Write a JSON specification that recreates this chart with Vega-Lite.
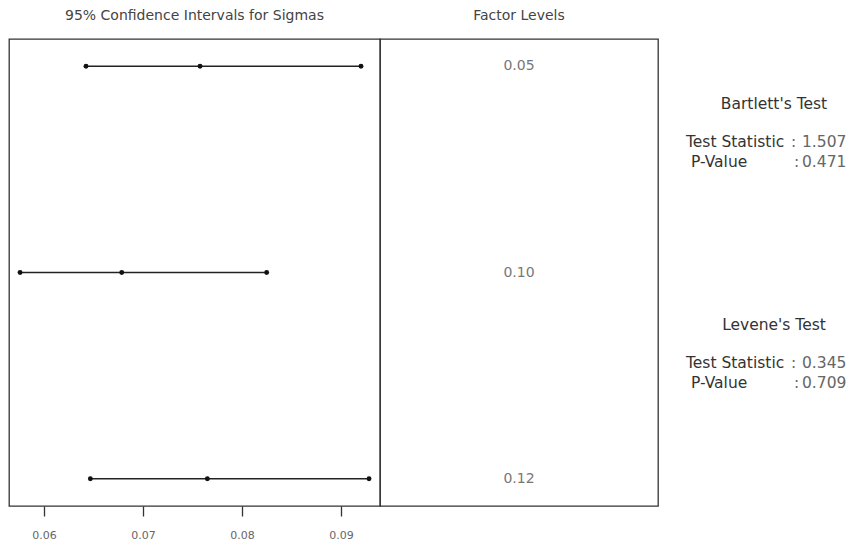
{
  "$schema": "https://vega.github.io/schema/vega-lite/v6.json",
  "padding": {"left": 8, "top": 8, "right": 0, "bottom": 0},
  "background": "white",
  "bounds": "flush",
  "spacing": 0,
  "datasets": {
    "intervals": [
      {"level": "0.05", "lower": 0.06424, "sigma": 0.07576, "upper": 0.09202},
      {"level": "0.10", "lower": 0.05758, "sigma": 0.06785, "upper": 0.08249},
      {"level": "0.12", "lower": 0.06468, "sigma": 0.07650, "upper": 0.09283}
    ],
    "tests": [
      {"test": "Bartlett's Test", "statistic": 1.507, "pvalue": 0.471},
      {"test": "Levene's Test", "statistic": 0.345, "pvalue": 0.709}
    ]
  },
  "config": {
    "font": "DejaVu Sans",
    "view": {"stroke": "#333333", "strokeWidth": 1.3},
    "title": {"font": "DejaVu Sans", "fontSize": 14, "fontWeight": "normal", "color": "#444444", "offset": 16}
  },
  "hconcat": [
    {
      "width": 371,
      "height": 467,
      "title": {"text": "95% Confidence Intervals for Sigmas"},
      "data": {"name": "intervals"},
      "encoding": {
        "y": {"field": "level", "type": "nominal", "scale": {"type": "point", "domain": ["0.05", "0.10", "0.12"], "padding": 0.132}, "axis": null}
      },
      "layer": [
        {
          "mark": {"type": "rule", "color": "#222222", "strokeWidth": 1.3},
          "encoding": {
            "x": {"field": "lower", "type": "quantitative",
                  "scale": {"domain": [0.05646, 0.09394], "nice": false, "zero": false},
                  "axis": {"values": [0.06, 0.07, 0.08, 0.09], "format": ".2f", "title": null, "grid": false, "domain": false,
                           "tickSize": 10, "tickColor": "#333333", "tickWidth": 1.3, "labelColor": "#666666", "labelFont": "DejaVu Sans",
                           "labelFontSize": 11, "labelPadding": 13}},
            "x2": {"field": "upper"}
          }
        },
        {
          "transform": [{"fold": ["lower", "sigma", "upper"], "as": ["stat", "value"]}],
          "mark": {"type": "circle", "size": 24, "color": "#111111", "opacity": 1},
          "encoding": {"x": {"field": "value", "type": "quantitative"}}
        }
      ]
    },
    {
      "width": 278,
      "height": 467,
      "title": {"text": "Factor Levels"},
      "data": {"name": "intervals"},
      "mark": {"type": "text", "fontSize": 14, "color": "#777777", "align": "center", "baseline": "middle"},
      "encoding": {
        "y": {"field": "level", "type": "nominal", "scale": {"type": "point", "domain": ["0.05", "0.10", "0.12"], "padding": 0.132}, "axis": null},
        "x": {"datum": 0.5, "type": "quantitative", "scale": {"domain": [0, 1]}, "axis": null},
        "text": {"field": "level", "type": "nominal"}
      }
    },
    {
      "width": 200,
      "height": 467,
      "view": {"stroke": null},
      "data": {"name": "tests"},
      "encoding": {
        "y": {"field": "test", "type": "nominal", "scale": {"type": "point", "domain": ["Bartlett's Test", "Levene's Test"], "padding": 0.552}, "axis": null}
      },
      "layer": [
        {
          "mark": {"type": "text", "fontSize": 15.5, "color": "#333333", "align": "center", "baseline": "middle", "dy": -58},
          "encoding": {
            "x": {"datum": 0.58, "type": "quantitative", "scale": {"domain": [0, 1]}, "axis": null},
            "text": {"field": "test", "type": "nominal"}
          }
        },
        {
          "mark": {"type": "text", "fontSize": 15.5, "color": "#333333", "align": "left", "baseline": "middle", "dy": -20, "text": "Test Statistic"},
          "encoding": {
            "x": {"datum": 0.14, "type": "quantitative", "scale": {"domain": [0, 1]}, "axis": null}
          }
        },
        {
          "mark": {"type": "text", "fontSize": 15.5, "color": "#333333", "align": "left", "baseline": "middle", "dy": 0, "text": "P-Value"},
          "encoding": {
            "x": {"datum": 0.165, "type": "quantitative", "scale": {"domain": [0, 1]}, "axis": null}
          }
        },
        {
          "mark": {"type": "text", "fontSize": 15.5, "color": "#666666", "align": "left", "baseline": "middle", "dy": -20, "text": ":"},
          "encoding": {
            "x": {"datum": 0.665, "type": "quantitative", "scale": {"domain": [0, 1]}, "axis": null}
          }
        },
        {
          "mark": {"type": "text", "fontSize": 15.5, "color": "#666666", "align": "left", "baseline": "middle", "dy": 0, "text": ":"},
          "encoding": {
            "x": {"datum": 0.68, "type": "quantitative", "scale": {"domain": [0, 1]}, "axis": null}
          }
        },
        {
          "mark": {"type": "text", "fontSize": 15.5, "color": "#666666", "align": "left", "baseline": "middle", "dy": -20},
          "encoding": {
            "x": {"datum": 0.72, "type": "quantitative", "scale": {"domain": [0, 1]}, "axis": null},
            "text": {"field": "statistic", "type": "quantitative", "format": ".3f"}
          }
        },
        {
          "mark": {"type": "text", "fontSize": 15.5, "color": "#666666", "align": "left", "baseline": "middle", "dy": 0},
          "encoding": {
            "x": {"datum": 0.72, "type": "quantitative", "scale": {"domain": [0, 1]}, "axis": null},
            "text": {"field": "pvalue", "type": "quantitative", "format": ".3f"}
          }
        }
      ]
    }
  ]
}
